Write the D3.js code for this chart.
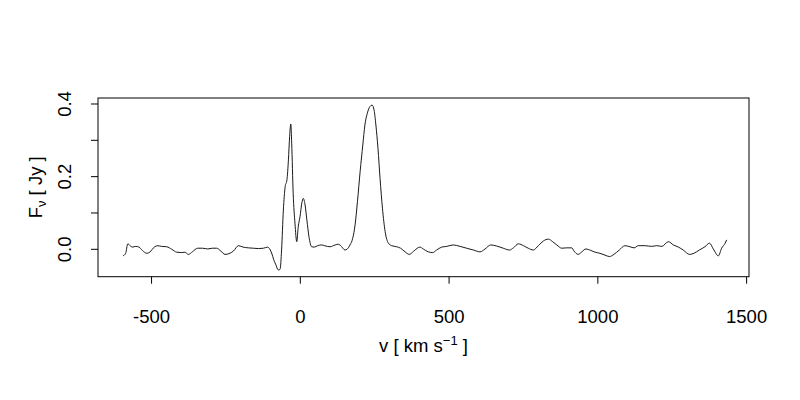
<!DOCTYPE html>
<html>
<head>
<meta charset="utf-8">
<script src="https://cdn.jsdelivr.net/npm/d3@7"></script>
<style>
  body { margin: 0; background: #fff; }
  svg text { font-family: "Liberation Sans", Arial, sans-serif; fill: #000; }
</style>
</head>
<body>
<svg id="chart" width="800" height="400"></svg>
<script>
// spectrum: velocity (km/s) and flux density (Jy)
var velocity = [
  -596, -587, -580, -572, -565, -553, -542, -531, -516, -505, -491, -479, -466, -449, -432,
  -415, -399, -388, -376, -363, -345, -329, -311, -296, -281, -267, -253, -240, -225, -208,
  -192, -175, -158, -141, -124, -110, -98, -87, -83, -74, -68, -63, -57, -51, -45,
  -40, -36, -32, -29, -24, -18, -12, -7, -1, 5, 10, 16, 22, 29, 38,
  47, 58, 72, 81, 100, 117, 128, 139, 150, 158, 167, 176, 184, 192, 201,
  210, 217, 225, 234, 241, 248, 254, 261, 268, 276, 285, 296, 307, 324, 337,
  352, 366, 380, 393, 402, 413, 430, 445, 458, 475, 492, 514, 537, 559, 582,
  604, 621, 640, 660, 682, 703, 716, 733, 750, 766, 783, 800, 817, 834, 848,
  862, 879, 895, 912, 920, 934, 946, 960, 976, 991, 1007, 1024, 1039, 1054, 1072,
  1091, 1108, 1122, 1136, 1159, 1181, 1198, 1215, 1237, 1254, 1271, 1287, 1308, 1323, 1341,
  1360, 1375, 1388, 1405, 1416, 1428, 1433
];
var flux = [
  -0.018, -0.011, 0.015, 0.010, 0.006, 0.008, 0.006, -0.003, -0.011, -0.007, 0.006, 0.010, 0.008, 0.007, 0.000,
  -0.008, -0.009, -0.008, -0.014, -0.007, 0.003, 0.003, 0.001, 0.003, 0.003, -0.005, -0.014, -0.012, -0.005, 0.010,
  0.006, 0.004, 0.003, 0.002, 0.003, 0.006, -0.007, -0.034, -0.041, -0.057, -0.055, -0.002, 0.108, 0.172, 0.191,
  0.246, 0.310, 0.345, 0.292, 0.154, 0.072, 0.021, 0.062, 0.090, 0.127, 0.140, 0.122, 0.081, 0.035, 0.007,
  0.006, 0.010, 0.012, 0.010, 0.007, 0.012, 0.014, 0.007, -0.002, 0.001, 0.012, 0.030, 0.067, 0.131, 0.214,
  0.287, 0.342, 0.374, 0.393, 0.397, 0.383, 0.342, 0.278, 0.195, 0.113, 0.049, 0.017, 0.010, 0.007, 0.003,
  -0.007, -0.014, -0.006, 0.003, 0.006, 0.001, -0.007, -0.009, -0.002, 0.006, 0.008, 0.012, 0.008, 0.003, -0.002,
  -0.007, 0.001, 0.012, 0.009, 0.003, -0.002, 0.004, 0.015, 0.010, 0.003, -0.002, 0.010, 0.023, 0.028, 0.021,
  0.012, 0.003, 0.004, 0.004, -0.005, -0.014, -0.007, 0.001, -0.003, -0.008, -0.011, -0.016, -0.020, -0.014, -0.002,
  0.010, 0.007, 0.004, 0.010, 0.010, 0.008, 0.010, 0.008, 0.021, 0.012, 0.006, -0.002, -0.014, -0.011, -0.002,
  0.007, 0.017, 0.001, -0.018, 0.003, 0.017, 0.026
];
var xTicks = [-500, 0, 500, 1000, 1500];
var yTicks = [0, 0.1, 0.2, 0.3, 0.4];
var yLabels = [0, 0.2, 0.4];

var svg = d3.select("#chart");
var plotLeft = 98, plotRight = 749, plotTop = 98, plotBottom = 276.7;

// R-like padded ranges
var x = d3.scaleLinear().domain([-680, 1508]).range([plotLeft, plotRight]);
var y = d3.scaleLinear().domain([-0.0754, 0.4165]).range([plotBottom, plotTop]);

var dataset = d3.zip(velocity, flux);

var line = d3.line()
    .x(function(d) { return x(d[0]); })
    .y(function(d) { return y(d[1]); })
    .curve(d3.curveMonotoneX);

svg.append("path")
    .datum(dataset)
    .attr("d", line)
    .attr("fill", "none")
    .attr("stroke", "#1a1a1a")
    .attr("stroke-width", 1);

// box
svg.append("rect")
    .attr("x", plotLeft).attr("y", plotTop)
    .attr("width", plotRight - plotLeft).attr("height", plotBottom - plotTop)
    .attr("fill", "none").attr("stroke", "#000").attr("stroke-width", 1);

// x axis
var xAxis = svg.append("g").attr("class", "x axis");
xAxis.selectAll("line").data(xTicks).enter().append("line")
    .attr("x1", function(d) { return x(d); }).attr("x2", function(d) { return x(d); })
    .attr("y1", plotBottom).attr("y2", plotBottom + 7)
    .attr("stroke", "#000");
xAxis.selectAll("text").data(xTicks).enter().append("text")
    .attr("x", function(d) { return x(d); })
    .attr("y", 323)
    .attr("text-anchor", "middle")
    .attr("font-size", 18.5)
    .text(function(d) { return d; });

// y axis
var yAxis = svg.append("g").attr("class", "y axis");
yAxis.selectAll("line").data(yTicks).enter().append("line")
    .attr("x1", plotLeft - 7).attr("x2", plotLeft)
    .attr("y1", function(d) { return y(d); }).attr("y2", function(d) { return y(d); })
    .attr("stroke", "#000");
yAxis.selectAll("text").data(yLabels).enter().append("text")
    .attr("transform", function(d) { return "translate(71," + y(d) + ") rotate(-90)"; })
    .attr("text-anchor", "middle")
    .attr("font-size", 18.5)
    .text(function(d) { return d.toFixed(1); });

// axis titles
var xt = svg.append("text")
    .attr("x", (plotLeft + plotRight) / 2).attr("y", 352)
    .attr("text-anchor", "middle")
    .attr("font-size", 18.5);
xt.append("tspan").text("v [ km s");
xt.append("tspan").attr("dy", -7).attr("font-size", 13).text("\u22121");
xt.append("tspan").attr("dy", 7).text(" ]");

var yt = svg.append("text")
    .attr("transform", "translate(42," + ((plotTop + plotBottom) / 2) + ") rotate(-90)")
    .attr("text-anchor", "middle")
    .attr("font-size", 18.5);
yt.append("tspan").text("F");
yt.append("tspan").attr("dy", 4).attr("font-size", 13).text("\u03bd");
yt.append("tspan").attr("dy", -4).text(" [ Jy ]");
</script>
</body>
</html>
